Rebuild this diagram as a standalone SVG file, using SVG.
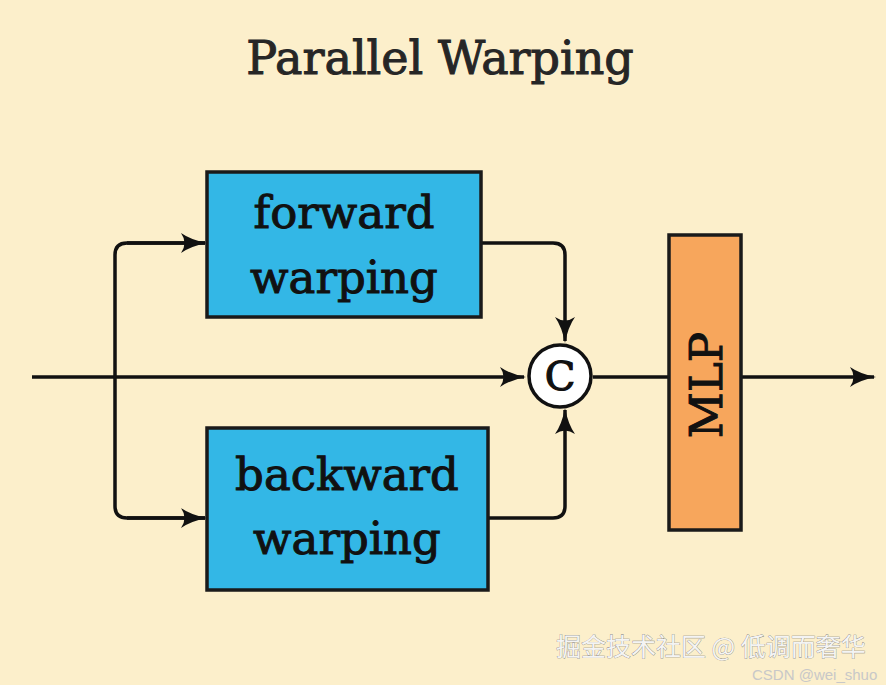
<svg xmlns="http://www.w3.org/2000/svg" width="886" height="685" viewBox="0 0 886 685">
<style>
.bg{fill:#FCEFCB}
.box{fill:#33B7E6;stroke:#1a1a1a;stroke-width:3.5}
.mlp{fill:#F7A65C;stroke:#1a1a1a;stroke-width:3.5}
.lbl{font-family:"DejaVu Serif","Liberation Serif",serif;font-size:45px;fill:#111;stroke:#111;stroke-width:1;text-anchor:middle}
.title{font-family:"DejaVu Serif","Liberation Serif",serif;font-size:46px;fill:#262626;stroke:#262626;stroke-width:1;text-anchor:middle}
.ln{fill:none;stroke:#111;stroke-width:3.5;stroke-linejoin:round}
.wm{font-family:"Noto Sans CJK SC","Liberation Sans",sans-serif;font-size:25px;fill:#f4f4f4;stroke:#777;stroke-width:0.6;paint-order:stroke}
.wm2{font-family:"Liberation Sans",sans-serif;font-size:15px;fill:#c8c8c8}
</style>
<defs>
<marker id="arr" viewBox="0 0 26 20" refX="24" refY="10" markerWidth="26" markerHeight="20" markerUnits="userSpaceOnUse" orient="auto">
<path d="M0,0 Q10,7 26,10 Q10,13 0,20 Q7,10 0,0 Z" fill="#111"/>
</marker>
</defs>
<rect class="bg" width="886" height="685"/>
<text class="title" x="440" y="74">Parallel Warping</text>
<g id="connectors">
<path class="ln" d="M32,377 H524" marker-end="url(#arr)"/>
<path class="ln" d="M205,243 H127 Q115,243 115,255 V506 Q115,518 127,518 H205" />
<path class="ln" d="M127,243 H205" marker-end="url(#arr)"/>
<path class="ln" d="M127,518 H205" marker-end="url(#arr)"/>
<path class="ln" d="M481,243 H553 Q565,243 565,255 V341" marker-end="url(#arr)"/>
<path class="ln" d="M488,518 H553 Q565,518 565,506 V410" marker-end="url(#arr)"/>
<path class="ln" d="M593,377 H669"/>
<path class="ln" d="M741,377 H874" marker-end="url(#arr)"/>
</g>
<g id="forward">
<rect class="box" x="207" y="172" width="274" height="145"/>
<text class="lbl" x="344" y="228">forward</text>
<text class="lbl" x="344" y="293">warping</text>
</g>
<g id="backward">
<rect class="box" x="207" y="428" width="281" height="162"/>
<text class="lbl" x="347" y="490">backward</text>
<text class="lbl" x="347" y="554">warping</text>
</g>
<g id="concat">
<circle cx="560" cy="376" r="31" fill="#fff" stroke="#111" stroke-width="3.5"/>
<text x="560" y="390" font-family="DejaVu Serif, serif" font-size="40" text-anchor="middle" fill="#111" stroke="#111" stroke-width="1.2">C</text>
</g>
<g id="mlp">
<rect class="mlp" x="669" y="235" width="72" height="295"/>
<text class="lbl" font-size="48" transform="translate(722,385) rotate(-90)" x="0" y="0">MLP</text>
</g>
<g id="watermark">
<text class="wm" x="556" y="656">掘金技术社区 @ 低调而奢华</text>
<text class="wm2" x="752" y="680">CSDN @wei_shuo</text>
</g>
</svg>
